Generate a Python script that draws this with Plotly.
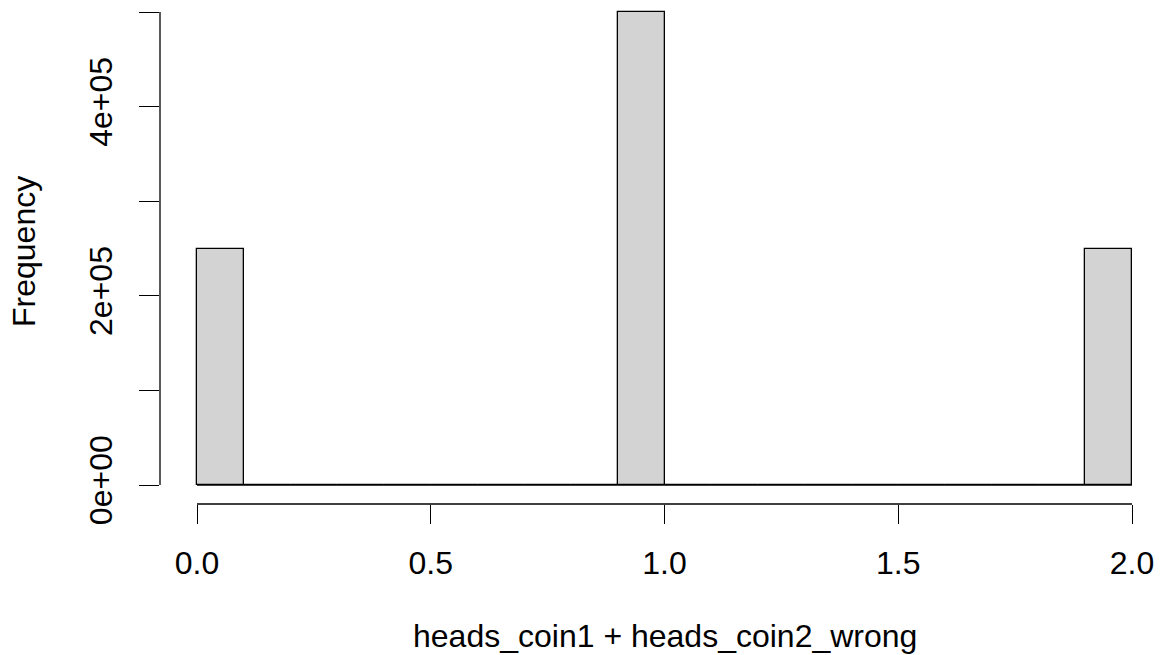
import plotly.graph_objects as go

# Histogram data (bins of width 0.1 from 0 to 2)
bin_left = [round(i * 0.1, 1) for i in range(20)]
counts = [250000, 0, 0, 0, 0, 0, 0, 0, 0, 500000,
          0, 0, 0, 0, 0, 0, 0, 0, 0, 250000]
bin_width = 0.1
x_ticks = [0.0, 0.5, 1.0, 1.5, 2.0]
x_ticklabels = ["0.0", "0.5", "1.0", "1.5", "2.0"]
y_ticks = [0, 100000, 200000, 300000, 400000, 500000]
y_ticklabels = ["0e+00", "", "2e+05", "", "4e+05", ""]
x_title = "heads_coin1 + heads_coin2_wrong"
y_title = "Frequency"

FONT = "Liberation Sans, Arial, Helvetica, sans-serif"
centers = [b + bin_width / 2 for b in bin_left]

fig = go.Figure()
fig.add_trace(go.Bar(
    x=centers, y=counts, width=bin_width,
    marker=dict(color="#D3D3D3", line=dict(color="black", width=1.3)),
    hoverinfo="x+y",
))

# baseline drawn by empty bins in R
fig.add_shape(type="line", xref="x", yref="y", x0=bin_left[0], x1=bin_left[-1] + bin_width,
              y0=0, y1=0, line=dict(color="black", width=1.3), layer="below")
# axis lines spanning first to last tick
fig.add_shape(type="line", xref="x", yref="paper", x0=x_ticks[0], x1=x_ticks[-1],
              y0=0, y1=0, line=dict(color="black", width=1.3))
fig.add_shape(type="line", xref="paper", yref="y", x0=0, x1=0,
              y0=y_ticks[0], y1=y_ticks[-1], line=dict(color="black", width=1.3))

fig.update_layout(
    width=1160, height=655,
    margin=dict(l=160, r=0, t=0, b=151, pad=0),
    paper_bgcolor="white", plot_bgcolor="white",
    showlegend=False, bargap=0,
    font=dict(family=FONT, size=32, color="black"),
    xaxis=dict(
        range=[(160 - 197) / 467.5, (1160 - 197) / 467.5],
        tickvals=x_ticks, ticktext=x_ticklabels,
        ticks="outside", ticklen=19, tickwidth=1.3, tickcolor="black",
        showgrid=False, zeroline=False, showline=False,
        ticklabelstandoff=12,
    ),
    yaxis=dict(
        range=[-19 / 0.000946, 485 / 0.000946],
        tickvals=y_ticks, ticktext=y_ticklabels, tickangle=-90,
        ticks="outside", ticklen=20, tickwidth=1.3, tickcolor="black",
        showgrid=False, zeroline=False, showline=False,
        ticklabelstandoff=14,
    ),
    annotations=[
        dict(text=x_title, xref="x", yref="paper", x=1.0, y=0,
             xanchor="center", yanchor="middle", yshift=-132, showarrow=False,
             font=dict(family=FONT, size=32, color="black")),
        dict(text=y_title, xref="paper", yref="paper", x=0, y=0.5,
             xanchor="center", yanchor="middle", xshift=-136, textangle=-90,
             showarrow=False, font=dict(family=FONT, size=32, color="black")),
    ],
)

fig.write_html("out.html")
